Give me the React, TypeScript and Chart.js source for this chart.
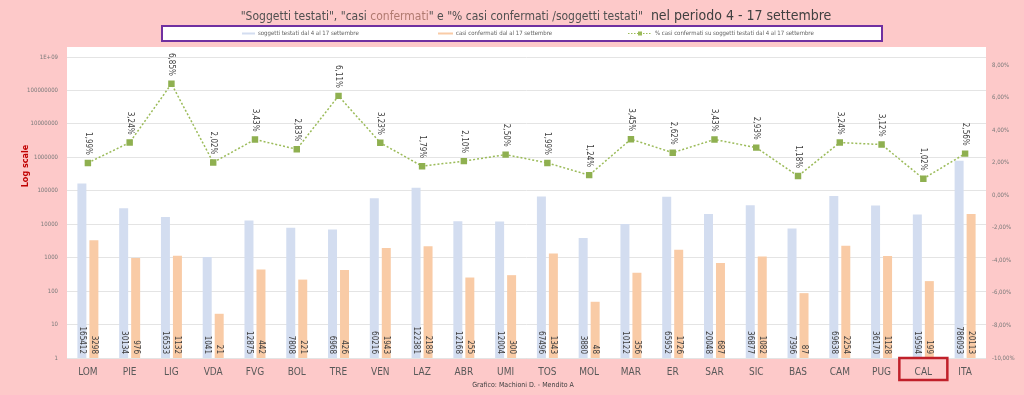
import React, { useEffect, useRef } from 'react';
import { Chart, registerables } from 'chart.js';
Chart.register(...registerables);

const categories = ['LOM','PIE','LIG','VDA','FVG','BOL','TRE','VEN','LAZ','ABR','UMI','TOS','MOL','MAR','ER','SAR','SIC','BAS','CAM','PUG','CAL','ITA'];
const testati = [165412,30134,16533,1041,12875,7808,6968,60216,122381,12168,12004,67496,3880,10122,65952,20048,36877,7396,69638,36170,19594,786093];
const confermati = [3298,976,1132,21,442,221,426,1943,2189,255,300,1343,48,356,1726,687,1082,87,2254,1128,199,20113];
const percentuali = [1.99,3.24,6.85,2.02,3.43,2.83,6.11,3.23,1.79,2.10,2.50,1.99,1.24,3.45,2.62,3.43,2.93,1.18,3.24,3.12,1.02,2.56];
const leftTicks = [1,10,100,1000,10000,100000,1000000,10000000,100000000,1000000000];
const leftTickLabels = ['1','10','100','1000','10000','100000','1000000','10000000','100000000','1E+09'];
const rightTicks = [-10,-8,-6,-4,-2,0,2,4,6,8];
const legendLabels = ['soggetti testati dal 4 al 17 settembre','casi confermati dal al 17 settembre','% casi confermati su soggetti testati dal 4 al 17 settembre'];
const highlighted = 'CAL';

const FONT = "'Liberation Sans Narrow', 'DejaVu Sans Condensed', 'Liberation Sans', sans-serif";
const PINK = '#fdc9c9';
const BLUE = '#d3ddf0';
const ORANGE = '#f9cba6';
const GREEN = '#9bbb59';
const fmtPct = (v: number) => v.toFixed(2).replace('.', ',') + '%';

const decorPlugin = {
  id: 'decor',
  beforeDraw(chart: any) {
    const { ctx, chartArea: a, width, height } = chart;
    ctx.save();
    ctx.fillStyle = PINK;
    ctx.fillRect(0, 0, width, height);
    ctx.fillStyle = '#ffffff';
    ctx.fillRect(a.left, a.top - 10, a.right - a.left, a.bottom - a.top + 10);
    ctx.restore();
  },
  afterDraw(chart: any) {
    const { ctx, chartArea: a } = chart;
    ctx.save();
    ctx.fillStyle = '#404040';
    ctx.font = `8px ${FONT}`;
    [0, 1].forEach((di) => {
      const meta = chart.getDatasetMeta(di);
      const vals = di === 0 ? testati : confermati;
      meta.data.forEach((el: any, i: number) => {
        ctx.save();
        ctx.translate(el.x, a.bottom - 4);
        ctx.rotate(Math.PI / 2);
        ctx.textAlign = 'right';
        ctx.textBaseline = 'middle';
        ctx.fillText(String(vals[i]), 0, 0);
        ctx.restore();
      });
    });
    const lm = chart.getDatasetMeta(2);
    lm.data.forEach((el: any, i: number) => {
      ctx.save();
      ctx.translate(el.x, el.y - 8);
      ctx.rotate(Math.PI / 2);
      ctx.textAlign = 'right';
      ctx.textBaseline = 'middle';
      ctx.fillText(fmtPct(percentuali[i]), 0, 0);
      ctx.restore();
    });
    const parts: [string, string, number][] = [
      ['"Soggetti testati", "casi ', '#505050', 12],
      ['confermati', '#b07a70', 12],
      ['" e "% casi confermati /soggetti testati"', '#505050', 12],
      ['  nel periodo 4 - 17 settembre', '#404040', 14],
    ];
    let total = 0;
    parts.forEach(([t, , s]) => { ctx.font = `${s}px ${FONT}`; total += ctx.measureText(t).width; });
    let tx = 536 - total / 2;
    ctx.textBaseline = 'alphabetic';
    ctx.textAlign = 'left';
    parts.forEach(([t, c, s]) => {
      ctx.font = `${s}px ${FONT}`;
      ctx.fillStyle = c;
      ctx.fillText(t, tx, 20);
      tx += ctx.measureText(t).width;
    });
    ctx.fillStyle = '#ffffff';
    ctx.fillRect(162, 26, 720, 15);
    ctx.strokeStyle = '#7030a0';
    ctx.lineWidth = 2;
    ctx.strokeRect(162, 26, 720, 15);
    ctx.font = `6px ${FONT}`;
    ctx.fillStyle = '#606060';
    ctx.textBaseline = 'middle';
    const ly = 33.5;
    ctx.lineWidth = 2;
    ctx.strokeStyle = BLUE;
    ctx.beginPath(); ctx.moveTo(242, ly); ctx.lineTo(255, ly); ctx.stroke();
    ctx.fillText(legendLabels[0], 258, ly);
    ctx.strokeStyle = ORANGE;
    ctx.beginPath(); ctx.moveTo(438, ly); ctx.lineTo(453, ly); ctx.stroke();
    ctx.fillText(legendLabels[1], 456, ly);
    ctx.strokeStyle = GREEN;
    ctx.lineWidth = 1.2;
    ctx.setLineDash([1.5, 1.5]);
    ctx.beginPath(); ctx.moveTo(628, ly); ctx.lineTo(652, ly); ctx.stroke();
    ctx.setLineDash([]);
    ctx.fillStyle = GREEN;
    ctx.fillRect(638, ly - 2, 4, 4);
    ctx.fillStyle = '#606060';
    ctx.fillText(legendLabels[2], 655, ly);
    ctx.save();
    ctx.translate(26, 166);
    ctx.rotate(-Math.PI / 2);
    ctx.textAlign = 'center';
    ctx.fillStyle = '#c00000';
    ctx.font = `bold 9px ${FONT}`;
    ctx.fillText('Log scale', 0, 0);
    ctx.restore();
    ctx.textAlign = 'center';
    ctx.fillStyle = '#404040';
    ctx.font = `7px ${FONT}`;
    ctx.fillText('Grafico: Machioni D. - Mendito A', 523, 385);
    const xs = chart.scales.x;
    const hi = categories.indexOf(highlighted);
    const hx = xs.getPixelForValue(hi);
    ctx.strokeStyle = '#c0202a';
    ctx.lineWidth = 2.5;
    ctx.strokeRect(hx - 24, 358, 48, 22);
    ctx.restore();
  },
};

export default function App() {
  const ref = useRef<HTMLCanvasElement>(null);
  useEffect(() => {
    if (!ref.current) return;
    const chart = new Chart(ref.current, {
      type: 'bar',
      data: {
        labels: categories,
        datasets: [
          { type: 'bar', label: legendLabels[0], data: testati, backgroundColor: BLUE, yAxisID: 'y', order: 1, categoryPercentage: 0.574, barPercentage: 0.75 },
          { type: 'bar', label: legendLabels[1], data: confermati, backgroundColor: ORANGE, yAxisID: 'y', order: 2, categoryPercentage: 0.574, barPercentage: 0.75 },
          { type: 'line', label: legendLabels[2], data: percentuali, yAxisID: 'y1', order: 0, borderColor: GREEN, borderWidth: 1.5, borderDash: [2, 2], pointStyle: 'rect', pointRadius: 3.5, pointBackgroundColor: '#8fb050', pointBorderColor: '#8fb050', tension: 0 },
        ] as any,
      },
      options: {
        responsive: false,
        animation: false,
        devicePixelRatio: 1,
        layout: { padding: { top: 57, left: 0, right: 0, bottom: 0 } },
        plugins: { legend: { display: false }, title: { display: false }, tooltip: { enabled: false } },
        scales: {
          x: {
            grid: { display: false },
            border: { display: false },
            ticks: { color: '#595959', font: { family: FONT, size: 10 }, padding: 0, maxRotation: 0, autoSkip: false },
            afterFit: (s: any) => { s.height = 37; },
          },
          y: {
            type: 'logarithmic',
            position: 'left',
            min: 1,
            max: 1e9,
            grid: { color: '#e4e4e4', drawTicks: false },
            border: { display: false },
            ticks: {
              color: '#7a7a7a', font: { family: FONT, size: 6 }, padding: 9,
              callback: (v: any) => { const i = leftTicks.indexOf(Number(v)); return i >= 0 ? leftTickLabels[i] : ''; },
            },
            afterBuildTicks: (s: any) => { s.ticks = leftTicks.map((v) => ({ value: v })); },
            afterFit: (s: any) => { s.width = 67; },
          },
          y1: {
            type: 'linear',
            position: 'right',
            min: -10,
            max: 8.5,
            grid: { display: false, drawTicks: false },
            border: { display: false },
            ticks: { color: '#7a7a7a', font: { family: FONT, size: 6 }, padding: 6, callback: (v: any) => fmtPct(Number(v)) },
            afterBuildTicks: (s: any) => { s.ticks = rightTicks.map((v) => ({ value: v })); },
            afterFit: (s: any) => { s.width = 38; },
          },
        },
      } as any,
      plugins: [decorPlugin],
    });
    return () => chart.destroy();
  }, []);
  return (
    <div style={{ position: 'fixed', left: 0, top: 0, width: 1024, height: 395, background: PINK }}>
      <canvas ref={ref} width={1024} height={395} style={{ width: 1024, height: 395, display: 'block' }} />
    </div>
  );
}
